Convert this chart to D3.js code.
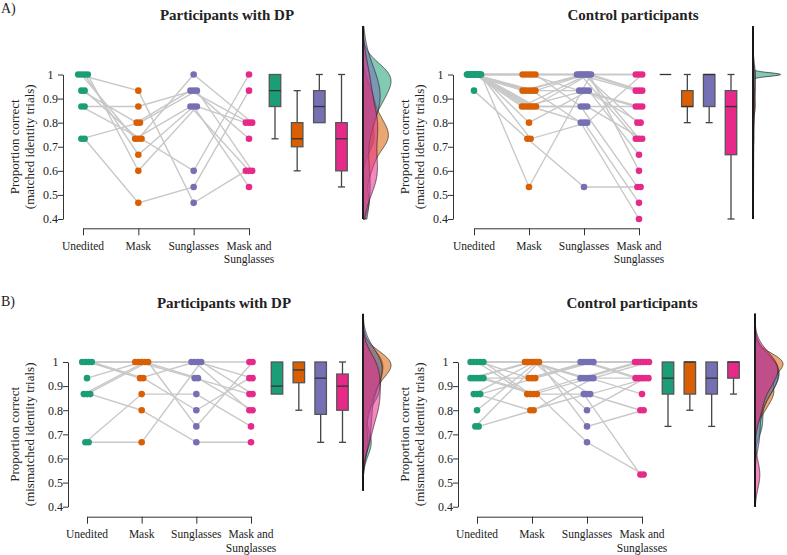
<!DOCTYPE html>
<html><head><meta charset="utf-8">
<script src="https://cdn.jsdelivr.net/npm/d3@7"></script>
<style>
body{margin:0;background:#fff}
svg{display:block}
svg text{font-family:"Liberation Serif","DejaVu Serif",serif !important;fill:#222}
</style>
</head><body>
<svg id="chart" width="787" height="555" font-family="Liberation Serif"></svg>
<script>
const conditions = ["Unedited", "Mask", "Sunglasses", "Mask and Sunglasses"];
const conditionColors = ["#1b9e77", "#d95f02", "#7570b3", "#e7298a"];
const yTicks = [0.4, 0.5, 0.6, 0.7, 0.8, 0.9, 1];
const yTickLabels = ["0.4", "0.5", "0.6", "0.7", "0.8", "0.9", "1"];
const panelTitles = ["Participants with DP", "Control participants", "Participants with DP", "Control participants"];
const yTitles = ["(matched identity trials)", "(matched identity trials)", "(mismatched identity trials)", "(mismatched identity trials)"];
const sectionLabels = ["A)", "B)"];

// one row per participant: [Unedited, Mask, Sunglasses, Mask and Sunglasses]
const dpMatched = [
  [1, .933, .467, .6], [1, .733, .867, .6], [1, .667, .867, .533], [1, .6, .867, .8],
  [.933, .8, .933, .8], [.933, .733, 1, .8], [.867, .733, .6, 1], [.867, .867, .933, .733],
  [.733, .8, .933, .6], [.733, .467, .533, .933]
];
const ctrlMatched = [
  [1, 1, 1, 1], [1, 1, 1, .933], [1, 1, .933, .867], [1, 1, 1, .733], [1, 1, .867, .533],
  [1, .933, 1, 1], [1, .933, 1, .8], [1, .933, .933, .867], [1, .933, .8, .4], [1, .933, 1, .733],
  [1, .867, 1, .933], [1, .867, .933, .8], [1, .867, .867, .867], [1, .867, .8, .467], [1, .867, 1, .6],
  [1, .867, .867, .733], [1, .8, .933, .667], [.933, .733, .533, .533], [1, .733, .8, 1], [1, .533, 1, .933]
];
const dpMismatched = [
  [1, 1, 1, 1], [1, 1, .933, .867], [1, .933, 1, .8], [1, .933, .8, .933], [.933, 1, 1, .933],
  [.867, 1, .933, .8], [.867, 1, .733, 1], [.867, .8, .667, .667], [.667, .867, .867, .733], [.667, .667, 1, .867]
];
const ctrlMismatched = [
  [1, 1, 1, 1], [1, 1, 1, .933], [1, .867, .933, 1], [1, .933, 1, .933], [1, .867, .867, .533],
  [.933, 1, .933, 1], [.933, 1, .933, .933], [.933, .933, 1, 1], [.933, .867, .933, .867], [.933, .867, .667, .533],
  [.867, 1, .8, .933], [.867, .8, .867, .8], [.867, .933, 1, 1], [.8, 1, .867, .933], [.733, 1, .733, .8],
  [.733, .8, .933, 1]
];

// box statistics per condition: [lower whisker, Q1, median, Q3, upper whisker]
const dpMatchedBox = [[.733, .867, .933, 1, 1], [.6, .7, .733, .8, .933], [.8, .8, .867, .933, 1], [.533, .6, .733, .8, 1]];
const ctrlMatchedBox = [[1, 1, 1, 1, 1], [.8, .867, .867, .933, 1], [.8, .867, 1, 1, 1], [.4, .667, .867, .933, 1]];
const dpMismatchedBox = [[.867, .867, .9, 1, 1], [.8, .914, .967, 1, 1], [.667, .783, .933, 1, 1], [.667, .8, .9, .95, 1]];
const ctrlMismatchedBox = [[.733, .867, .933, 1, 1], [.8, .867, 1, 1, 1], [.733, .867, .933, 1, 1], [.867, .933, 1, 1, 1]];

const datasets = [dpMatched, ctrlMatched, dpMismatched, ctrlMismatched];
const boxsets = [dpMatchedBox, ctrlMatchedBox, dpMismatchedBox, ctrlMismatchedBox];

// layout
const layout = [
  {axisX: 63,  yTop: 74.5, yBot: 219,   xr: [83, 249],  br: [275, 341.5], densX: 363, xAxisY: 228.3, titleX: 227, titleY: 20,  ytX: 14},
  {axisX: 453, yTop: 74.5, yBot: 219,   xr: [474, 639], br: [665.5, 731], densX: 753, xAxisY: 228.3, titleX: 633, titleY: 20,  ytX: 404},
  {axisX: 68,  yTop: 362,  yBot: 506.7, xr: [87, 251],  br: [277, 342.5], densX: 363, xAxisY: 516.7, titleX: 224, titleY: 308, ytX: 14},
  {axisX: 458, yTop: 362,  yBot: 506.7, xr: [477, 642], br: [668, 733.5], densX: 755, xAxisY: 516.7, titleX: 632, titleY: 308, ytX: 404}
];

const FONT = "Liberation Serif";
const svg = d3.select("#chart");
svg.append("text").attr("x", 1).attr("y", 13).attr("font-size", 14).text(sectionLabels[0]);
svg.append("text").attr("x", 1).attr("y", 306).attr("font-size", 14).text(sectionLabels[1]);

function bwNrd0(x) {
  const n = x.length;
  const s = x.slice().sort(d3.ascending);
  const sd = d3.deviation(s) || 0;
  const iqr = d3.quantile(s, .75) - d3.quantile(s, .25);
  let lo = Math.min(sd, iqr / 1.34);
  if (!lo) lo = sd || Math.abs(s[0]) || 1;
  return 0.9 * lo * Math.pow(n, -0.2);
}
function kde(values, grid) {
  const bw = bwNrd0(values);
  const n = values.length;
  return grid.map(g => [g, d3.sum(values, v => Math.exp(-0.5 * ((g - v) / bw) ** 2)) / (n * bw * Math.sqrt(2 * Math.PI))]);
}

layout.forEach((L, pi) => {
  const data = datasets[pi];
  const boxes = boxsets[pi];
  const g = svg.append("g");
  const y = d3.scaleLinear().domain([0.4, 1]).range([L.yBot, L.yTop]);
  const x = d3.scalePoint().domain(conditions).range(L.xr);
  const xb = d3.scalePoint().domain(conditions).range(L.br);

  // title
  g.append("text").attr("x", L.titleX).attr("y", L.titleY).attr("text-anchor", "middle")
    .attr("font-size", 15).attr("font-weight", "bold").text(panelTitles[pi]);

  // y axis
  const yAxis = d3.axisLeft(y).tickValues(yTicks).tickSize(5).tickSizeOuter(0)
    .tickFormat((d, i) => yTickLabels[i]);
  const ya = g.append("g").attr("transform", `translate(${L.axisX},0)`).call(yAxis)
    .attr("font-family", FONT);
  ya.selectAll("path,line").attr("stroke", "#333");
  ya.selectAll("text").attr("font-size", 12)
    .attr("text-anchor", "middle").attr("x", -12.5).attr("fill", "#222");

  // y title
  const ymid = (L.yTop + L.yBot) / 2;
  g.append("text").attr("transform", `translate(${L.ytX},${ymid}) rotate(-90)`)
    .attr("text-anchor", "middle").attr("dominant-baseline", "central").attr("font-size", 13)
    .text("Proportion correct");
  g.append("text").attr("transform", `translate(${L.ytX + 15},${ymid}) rotate(-90)`)
    .attr("text-anchor", "middle").attr("dominant-baseline", "central").attr("font-size", 13)
    .text(yTitles[pi]);

  // x axis
  const xAxis = d3.axisBottom(x).tickSize(7).tickSizeOuter(0).tickFormat("");
  const xa = g.append("g").attr("transform", `translate(0,${L.xAxisY})`).call(xAxis);
  xa.selectAll("path,line").attr("stroke", "#333");
  conditions.forEach(c => {
    const parts = c === "Mask and Sunglasses" ? ["Mask and", "Sunglasses"] : [c];
    parts.forEach((p, k) => {
      g.append("text").attr("x", x(c)).attr("y", L.xAxisY + 21.5 + k * 13.5)
        .attr("text-anchor", "middle").attr("font-size", 11.5).text(p);
    });
  });

  // jitter: spread equal values side by side
  const offs = data.map(() => [0, 0, 0, 0]);
  conditions.forEach((c, ci) => {
    const groups = d3.group(data.map((r, i) => i), i => data[i][ci]);
    groups.forEach(idx => {
      const k = idx.length;
      idx.forEach((i, j) => { offs[i][ci] = (j - (k - 1) / 2) * Math.min(3.2, 14 / Math.max(k - 1, 1)); });
    });
  });

  // participant lines
  const line = d3.line();
  data.forEach((r, i) => {
    g.append("path")
      .attr("d", line(r.map((v, ci) => [x(conditions[ci]) + offs[i][ci], y(v)])))
      .attr("fill", "none").attr("stroke", "#c8c8c8").attr("stroke-width", 1.4);
  });
  // points
  data.forEach((r, i) => {
    r.forEach((v, ci) => {
      g.append("circle").attr("cx", x(conditions[ci]) + offs[i][ci]).attr("cy", y(v))
        .attr("r", 3.3).attr("fill", conditionColors[ci]);
    });
  });

  // boxplots
  const bw = 11.5, cap = 7;
  boxes.forEach((b, ci) => {
    const cx = xb(conditions[ci]);
    const bg = g.append("g");
    bg.append("line").attr("x1", cx).attr("x2", cx).attr("y1", y(b[0])).attr("y2", y(b[1])).attr("stroke", "#444").attr("stroke-width", 1.3);
    bg.append("line").attr("x1", cx).attr("x2", cx).attr("y1", y(b[3])).attr("y2", y(b[4])).attr("stroke", "#444").attr("stroke-width", 1.3);
    if (b[0] < b[1]) bg.append("line").attr("x1", cx - cap / 2).attr("x2", cx + cap / 2).attr("y1", y(b[0])).attr("y2", y(b[0])).attr("stroke", "#444").attr("stroke-width", 1.3);
    if (b[4] > b[3]) bg.append("line").attr("x1", cx - cap / 2).attr("x2", cx + cap / 2).attr("y1", y(b[4])).attr("y2", y(b[4])).attr("stroke", "#444").attr("stroke-width", 1.3);
    if (b[3] > b[1]) {
      bg.append("rect").attr("x", cx - bw / 2).attr("width", bw).attr("y", y(b[3])).attr("height", y(b[1]) - y(b[3]))
        .attr("fill", conditionColors[ci]).attr("stroke", "#555").attr("stroke-width", 1.3);
    }
    bg.append("line").attr("x1", cx - bw / 2).attr("x2", cx + bw / 2).attr("y1", y(b[2])).attr("y2", y(b[2]))
      .attr("stroke", "#333").attr("stroke-width", 1.3);
  });

  // densities
  const allVals = data.flat();
  const lo = Math.max(0.4, d3.min(allVals) - 0.2), hi = 1.2;
  const grid = d3.range(lo, hi + 1e-9, 0.002);
  const dens = conditions.map((c, ci) => kde(data.map(r => r[ci]), grid));
  const maxD = d3.max(dens, d => d3.max(d, p => p[1]));
  const w = d3.scaleLinear().domain([0, maxD]).range([0, 28]);
  const ys = d3.scaleLinear().domain([0.4, 1]).range([L.yBot, L.yTop]);
  const area = d3.area().curve(d3.curveBasis).y(p => ys(p[0])).x0(L.densX).x1(p => L.densX + w(p[1]));
  dens.forEach((d, ci) => {
    g.append("path").attr("d", area(d)).attr("fill", conditionColors[ci]).attr("fill-opacity", 0.55)
      .attr("stroke", "#222").attr("stroke-width", 0.7);
  });
  g.append("line").attr("x1", L.densX).attr("x2", L.densX).attr("y1", ys(hi)).attr("y2", ys(lo))
    .attr("stroke", "#111").attr("stroke-width", 1.5);
});
</script>
</body></html>
